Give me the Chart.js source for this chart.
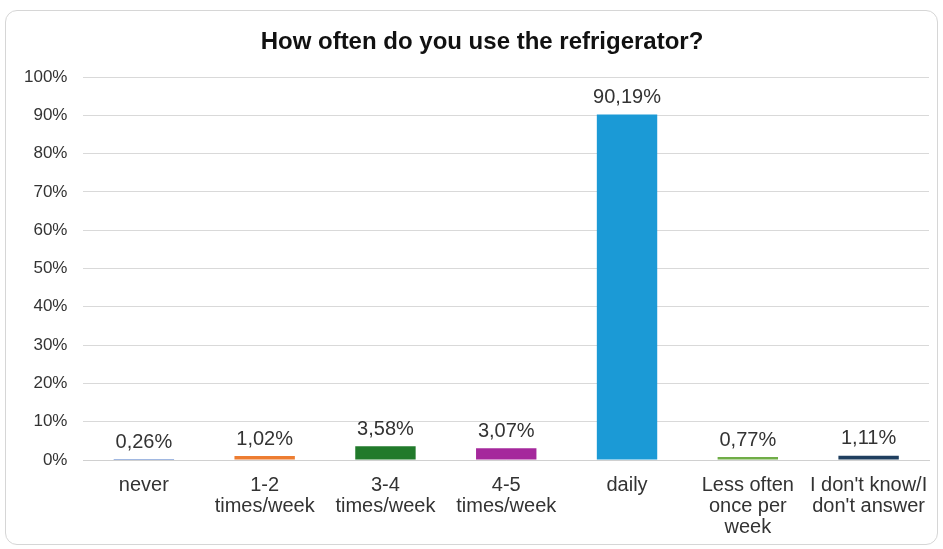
<!DOCTYPE html>
<html lang="en">
<head>
    <meta charset="UTF-8">
    <title>Refrigerator use</title>
    <script src="https://cdn.jsdelivr.net/npm/chart.js"></script>
    <style>
        html, body {
            margin: 0;
            padding: 0;
            background: #fff;
        }
        #box {
            position: absolute;
            left: 5px;
            top: 10px;
            width: 931px;
            height: 533px;
            border: 1px solid #d6d6d6;
            border-radius: 12px;
        }
        #wrap {
            position: absolute;
            left: 0;
            top: 0;
            width: 943px;
            height: 549px;
        }
    </style>
</head>
<body>
    <div id="box"></div>
    <div id="wrap"><canvas id="chart"></canvas></div>
    <script>
        var chartTitle = 'How often do you use the refrigerator?';
        var categories = [
            'never',
            ['1-2', 'times/week'],
            ['3-4', 'times/week'],
            ['4-5', 'times/week'],
            'daily',
            ['Less often', 'once per', 'week'],
            ["I don't know/I", "don't answer"]
        ];
        var shares = [0.26, 1.02, 3.58, 3.07, 90.19, 0.77, 1.11];
        var barColors = ['#4472c4', '#ed7d31', '#217a2b', '#a5289c', '#1b9ad6', '#70ad47', '#1f3f5f'];

        var FONT = '"Liberation Sans", Arial, sans-serif';

        // value labels above the bars, comma decimal
        var valueLabels = {
            id: 'valueLabels',
            afterDatasetsDraw: function(chart) {
                var ctx = chart.ctx;
                var meta = chart.getDatasetMeta(0);
                ctx.save();
                ctx.font = '20px ' + FONT;
                ctx.fillStyle = '#333';
                ctx.textAlign = 'center';
                ctx.textBaseline = 'bottom';
                meta.data.forEach(function(bar, i) {
                    var txt = shares[i].toFixed(2).replace('.', ',') + '%';
                    ctx.fillText(txt, bar.x, bar.y - 7);
                });
                ctx.restore();
            }
        };

        // title centred on the whole box, not only the padded area
        var boxTitle = {
            id: 'boxTitle',
            afterDraw: function(chart) {
                var ctx = chart.ctx;
                ctx.save();
                ctx.font = 'bold 24px ' + FONT;
                ctx.fillStyle = '#111';
                ctx.textAlign = 'center';
                ctx.textBaseline = 'middle';
                ctx.fillText(chartTitle, 482, 42);
                ctx.restore();
            }
        };

        var ctx = document.getElementById('chart').getContext('2d');
        var chart = new Chart(ctx, {
            type: 'bar',
            data: {
                labels: categories,
                datasets: [{
                    data: shares,
                    backgroundColor: barColors,
                    barPercentage: 0.5,
                    categoryPercentage: 1
                }]
            },
            plugins: [valueLabels, boxTitle],
            options: {
                responsive: true,
                maintainAspectRatio: false,
                animation: false,
                layout: {
                    padding: { left: 8, right: 14, top: 77, bottom: 4 }
                },
                plugins: {
                    legend: { display: false },
                    tooltip: { enabled: false },
                    title: { display: false }
                },
                scales: {
                    x: {
                        grid: { display: false },
                        border: { color: '#d0d0d0' },
                        ticks: {
                            color: '#333',
                            padding: 7,
                            maxRotation: 0,
                            autoSkip: false,
                            font: { family: FONT, size: 20, lineHeight: 1.05 }
                        }
                    },
                    y: {
                        min: 0,
                        max: 100,
                        border: { display: false },
                        grid: { color: '#d9d9d9', drawTicks: false },
                        ticks: {
                            stepSize: 10,
                            padding: 16,
                            color: '#333',
                            font: { family: FONT, size: 17 },
                            callback: function(v) { return v + '%'; }
                        }
                    }
                }
            }
        });
    </script>
</body>
</html>
